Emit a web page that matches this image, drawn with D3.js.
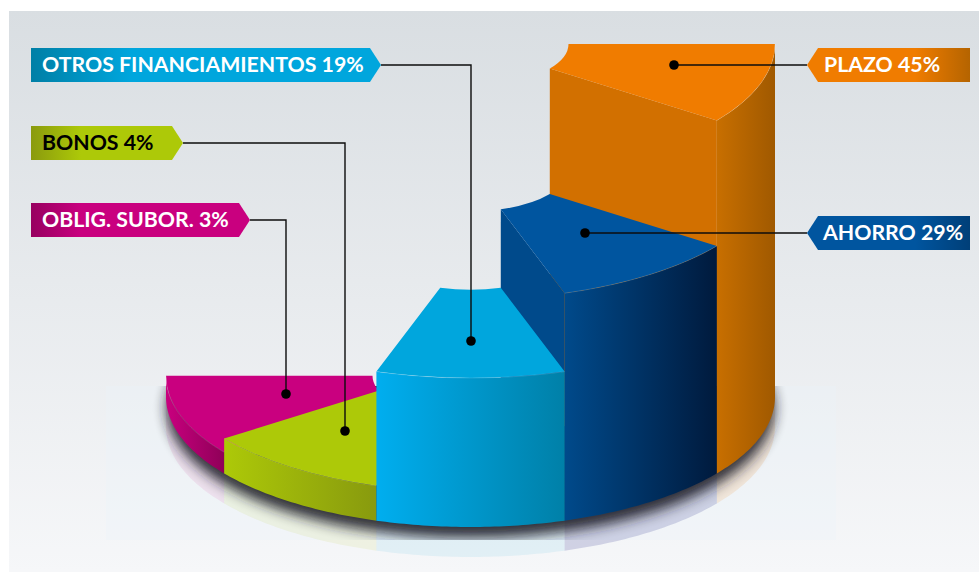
<!DOCTYPE html>
<html>
<head>
<meta charset="utf-8">
<script src="https://cdn.jsdelivr.net/npm/d3@7/dist/d3.min.js"></script>
<style>
  html, body { margin: 0; padding: 0; background: #fff; }
  svg { display: block; }
  text { font-family: Lato, "Open Sans", sans-serif; font-weight: 700; }
</style>
</head>
<body>
<script>
// Data (drawn heights give 4.45 and 2.7 for the two low slices)
const categories = ['PLAZO', 'AHORRO', 'OTROS FINANCIAMIENTOS', 'BONOS', 'OBLIG. SUBOR.'];
const values = [45, 29, 19, 4.45, 2.7];
const percentLabels = ['45%', '29%', '19%', '4%', '3%'];

// Colours per slice
const topColors = ['#f07c00', '#00559f', '#00a6dd', '#adc908', '#c9007f'];
const wallColors = ['#d27000', '#004a8b', null, null, null];
const sideStart = ['#c86f00', '#004a8b', '#00aeef', '#adc908', '#c9007f'];
const sideEnd = ['#a05900', '#001a3d', '#0080a8', '#889a0e', '#8f0058'];
const tagDark = ['#b56400', '#003f78', '#007fa6', '#8a9a0e', '#970060'];
const textColors = ['#fff', '#fff', '#fff', '#000', '#fff'];
const reflectColors = ['#f07c00', '#3c3f96', '#00a6dd', '#adc908', '#c9007f'];
const reflectOpacity = [0.12, 0.2, 0.08, 0.09, 0.08];

// Label tags and leader lines
const tagLayout = [
  { side: 'right', x: 807, y: 48, w: 163, textX: 824, elbowX: null, dotX: 674, dotY: 65 },
  { side: 'right', x: 807, y: 216, w: 163, textX: 823, elbowX: null, dotX: 585, dotY: 233 },
  { side: 'left', x: 31, y: 48, w: 350, textX: 42, elbowX: 471, dotX: 471, dotY: 341 },
  { side: 'left', x: 31, y: 126, w: 152, textX: 42, elbowX: 345, dotX: 345, dotY: 431 },
  { side: 'left', x: 31, y: 203, w: 219, textX: 42, elbowX: 286, dotX: 286, dotY: 394 }
];

const width = 979, height = 572;
const cx = 470.5, baseY = 397, R = 304.5, ry = 130, rInner = 98;
const tagH = 34, tagTip = 11, reflectDepth = 30;

const yTop = d3.scaleLinear().domain([0, 45]).range([baseY, 44]);

const pie = d3.pie().value(1).sort(null).startAngle(Math.PI / 2).endAngle(Math.PI * 1.5);
const slices = pie(values).map((d, i) => ({ ...d, i, value: values[i], y: yTop(values[i]) }));

const arcTop = d3.arc().innerRadius(rInner).outerRadius(R);
const lineGen = d3.line();

// Point on an ellipse, angle in d3.arc convention
function pt(a, r, yc) {
  return [cx + r * Math.sin(a), yc - r * (ry / R) * Math.cos(a)];
}

// Sampled outer rim between two angles
function rim(a0, a1, yc) {
  return d3.range(0, 41).map(k => pt(a0 + (a1 - a0) * k / 40, R, yc));
}

const svg = d3.select('body').append('svg').attr('width', width).attr('height', height);
const defs = svg.append('defs');

const bg = defs.append('linearGradient').attr('id', 'bg').attr('x1', 0).attr('x2', 0).attr('y1', 0).attr('y2', 1);
bg.append('stop').attr('offset', '0%').attr('stop-color', '#d9dee2');
bg.append('stop').attr('offset', '100%').attr('stop-color', '#f6f7f9');

defs.append('filter').attr('id', 'blur').attr('x', '-10%').attr('y', '-20%').attr('width', '120%').attr('height', '140%')
  .append('feGaussianBlur').attr('stdDeviation', 6.5);

defs.append('clipPath').attr('id', 'haloClip').append('rect')
  .attr('x', 106).attr('y', 386).attr('width', 730).attr('height', 154);

// Side gradients, one per slice, in user space so they follow the rim extent
slices.forEach(s => {
  const xs = [pt(s.startAngle, R, 0)[0], pt(s.endAngle, R, 0)[0]];
  const g = defs.append('linearGradient').attr('id', `side${s.i}`)
    .attr('gradientUnits', 'userSpaceOnUse')
    .attr('x1', d3.min(xs)).attr('x2', d3.max(xs)).attr('y1', 0).attr('y2', 0);
  g.append('stop').attr('offset', '0%').attr('stop-color', sideStart[s.i]);
  g.append('stop').attr('offset', '100%').attr('stop-color', sideEnd[s.i]);
});

// Background panel
svg.append('rect').attr('x', 9).attr('y', 11).attr('width', width - 9).attr('height', height - 11).attr('fill', 'url(#bg)');

// Faint halo behind the reflection
svg.append('rect').attr('x', 106).attr('y', 386).attr('width', 730).attr('height', 154)
  .attr('fill', '#ecf4f8').attr('opacity', 0.35);

// Reflection under the base
svg.append('g').selectAll('path').data(slices).join('path')
  .attr('d', s => {
    const top = rim(s.startAngle, s.endAngle, baseY);
    const low = rim(s.endAngle, s.startAngle, baseY + reflectDepth);
    return lineGen(top.concat(low)) + 'Z';
  })
  .attr('fill', s => reflectColors[s.i])
  .attr('opacity', s => reflectOpacity[s.i]);

// Soft shadow of the base
svg.append('g').attr('clip-path', 'url(#haloClip)')
  .append('ellipse')
  .attr('cx', cx).attr('cy', 408).attr('rx', 304).attr('ry', 130)
  .attr('fill', '#1c1a26').attr('opacity', 0.9).attr('filter', 'url(#blur)');

// Painter's order: tall back slices first, the front one last
const drawOrder = [0, 1, 4, 3, 2];
const group = svg.append('g');

drawOrder.forEach(i => {
  const s = slices[i];
  const g = group.append('g');

  // Radial wall that looks towards the viewer
  if (wallColors[i]) {
    const a = s.endAngle;
    const wall = [pt(a, rInner, s.y), pt(a, R, s.y), pt(a, R, baseY), pt(a, rInner, baseY)];
    g.append('path').attr('d', lineGen(wall) + 'Z').attr('fill', wallColors[i]);
  }

  // Outer curved side
  const upper = rim(s.startAngle, s.endAngle, s.y);
  const lower = rim(s.endAngle, s.startAngle, baseY);
  g.append('path').attr('d', lineGen(upper.concat(lower)) + 'Z').attr('fill', `url(#side${i})`);

  // Top face
  g.append('path')
    .attr('d', arcTop(s))
    .attr('transform', `translate(${cx},${s.y}) scale(1,${ry / R})`)
    .attr('fill', topColors[i]);

  // Thin rim highlight
  g.append('path').attr('d', lineGen(upper)).attr('fill', 'none')
    .attr('stroke', '#fff').attr('stroke-opacity', 0.18).attr('stroke-width', 0.8);
});

// Leader lines and dots
const leaders = svg.append('g');
tagLayout.forEach(t => {
  const midY = t.y + tagH / 2;
  const pts = t.side === 'left'
    ? [[t.x + t.w, midY], [t.elbowX, midY], [t.dotX, t.dotY]]
    : [[t.x, midY], [t.dotX, t.dotY]];
  leaders.append('path').attr('d', lineGen(pts)).attr('fill', 'none')
    .attr('stroke', '#0c0c0c').attr('stroke-width', 1.4);
  leaders.append('circle').attr('cx', t.dotX).attr('cy', t.dotY).attr('r', 4.8).attr('fill', '#000');
});

// Label tags
tagLayout.forEach((t, i) => {
  const g = svg.append('g');
  const grad = defs.append('linearGradient').attr('id', `tag${i}`)
    .attr('gradientUnits', 'userSpaceOnUse').attr('y1', 0).attr('y2', 0);
  if (t.side === 'left') {
    grad.attr('x1', t.x).attr('x2', t.x + (i === 2 ? 100 : 50));
    grad.append('stop').attr('offset', '0%').attr('stop-color', tagDark[i]);
    grad.append('stop').attr('offset', '100%').attr('stop-color', topColors[i]);
  } else {
    grad.attr('x1', t.x + t.w - 55).attr('x2', t.x + t.w);
    grad.append('stop').attr('offset', '0%').attr('stop-color', topColors[i]);
    grad.append('stop').attr('offset', '100%').attr('stop-color', tagDark[i]);
  }
  const x0 = t.x, x1 = t.x + t.w, y0 = t.y, y1 = t.y + tagH, m = t.y + tagH / 2;
  const outline = t.side === 'left'
    ? [[x0, y0], [x1 - tagTip, y0], [x1, m], [x1 - tagTip, y1], [x0, y1]]
    : [[x0, m], [x0 + tagTip, y0], [x1, y0], [x1, y1], [x0 + tagTip, y1]];
  g.append('path').attr('d', lineGen(outline) + 'Z').attr('fill', `url(#tag${i})`);
  g.append('text').attr('x', t.textX).attr('y', t.y + 24)
    .attr('font-size', 21.3).attr('fill', textColors[i])
    .text(`${categories[i]} ${percentLabels[i]}`);
});
</script>
</body>
</html>
